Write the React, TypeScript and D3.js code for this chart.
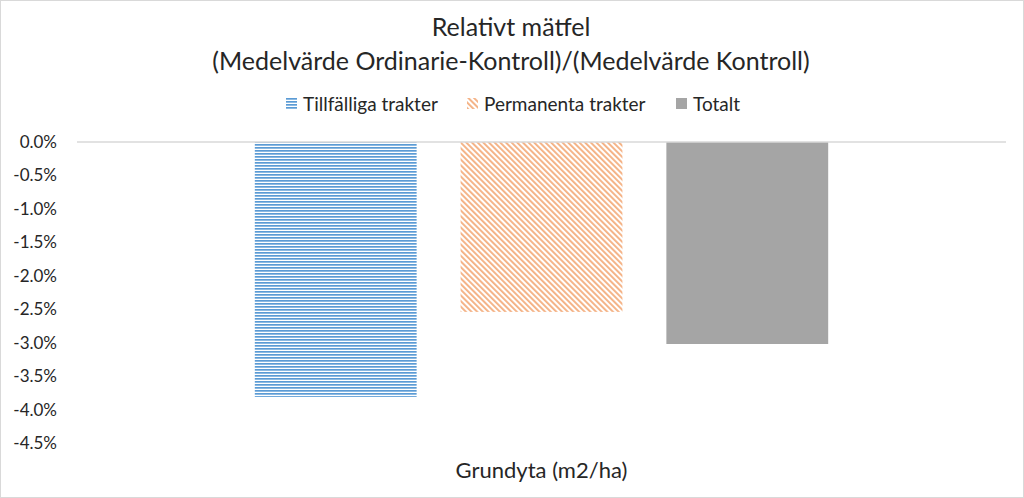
import { useEffect, useRef } from 'react'
import * as d3 from 'd3'

const titleLines = ['Relativt mätfel', '(Medelvärde Ordinarie-Kontroll)/(Medelvärde Kontroll)']
const categories = ['Grundyta (m2/ha)']
const seriesNames = ['Tillfälliga trakter', 'Permanenta trakter', 'Totalt']
const seriesValues = [-0.0381, -0.0254, -0.0302]
const yTicks = [0, -0.005, -0.01, -0.015, -0.02, -0.025, -0.03, -0.035, -0.04, -0.045]

const FILLS = ['url(#pat-hor)', 'url(#pat-diag)', '#a5a5a5']
const TXT = '#262626'
const FONT = 'Lato, "Open Sans", sans-serif'

export default function App() {
  const ref = useRef<SVGSVGElement>(null)

  useEffect(() => {
    const svg = d3.select(ref.current!)
    svg.selectAll('*').remove()
    const W = 1024, H = 498
    const m = { t: 142, r: 18, b: 55, l: 77 }
    svg.attr('width', W).attr('height', H)

    // Patterns
    const defs = svg.append('defs')
    const ph = defs.append('pattern').attr('id', 'pat-hor').attr('patternUnits', 'userSpaceOnUse')
      .attr('width', 6).attr('height', 3)
    ph.append('rect').attr('width', 6).attr('height', 3).attr('fill', '#fff')
    ph.append('rect').attr('width', 6).attr('height', 1.7).attr('fill', '#5b9bd5')
    const pd = defs.append('pattern').attr('id', 'pat-diag').attr('patternUnits', 'userSpaceOnUse')
      .attr('width', 4).attr('height', 4).attr('patternTransform', 'rotate(-45)')
    pd.append('rect').attr('width', 4).attr('height', 4).attr('fill', '#fff')
    pd.append('rect').attr('width', 1.9).attr('height', 4).attr('fill', '#f4b183')

    // Border
    svg.append('rect').attr('x', 0.5).attr('y', 0.5).attr('width', W - 1).attr('height', H - 1)
      .attr('fill', '#fff').attr('stroke', '#d9d9d9')

    // Title
    titleLines.forEach((t, i) => {
      svg.append('text').attr('x', 511).attr('y', 36 + i * 34).attr('text-anchor', 'middle')
        .attr('font-family', FONT).attr('font-size', 25).attr('fill', TXT).text(t)
    })

    const y = d3.scaleLinear().domain([-0.045, 0]).range([H - m.b, m.t])
    const x0 = d3.scaleBand().domain(categories).range([m.l, W - m.r]).padding(0.2367)
    const x1 = d3.scaleBand().domain(seriesNames).range([0, x0.bandwidth()]).paddingInner(0.2136).paddingOuter(0)

    // Y axis labels
    const fmt = d3.format('.1%')
    svg.append('g').attr('transform', `translate(${m.l - 20},0)`)
      .call(d3.axisLeft(y).tickValues(yTicks).tickSize(0).tickPadding(0).tickFormat(d => fmt(d as number).replace('−', '-')))
      .call(g => g.select('.domain').remove())
      .selectAll('text').attr('font-family', FONT).attr('font-size', 17).attr('fill', TXT)

    // Bars
    categories.forEach(c => {
      seriesNames.forEach((s, i) => {
        const v = seriesValues[i]
        svg.append('rect').attr('x', (x0(c) ?? 0) + (x1(s) ?? 0)).attr('width', x1.bandwidth())
          .attr('y', y(0)).attr('height', y(v) - y(0)).attr('fill', FILLS[i])
      })
      svg.append('text').attr('x', (x0(c) ?? 0) + x0.bandwidth() / 2).attr('y', 478)
        .attr('text-anchor', 'middle').attr('font-family', FONT).attr('font-size', 22).attr('fill', TXT).text(c)
    })

    // Zero axis line
    svg.append('line').attr('x1', m.l).attr('x2', W - m.r).attr('y1', y(0)).attr('y2', y(0))
      .attr('stroke', '#d9d9d9').attr('stroke-width', 1.3)

    // Legend
    const legX = [286, 467, 676]
    seriesNames.forEach((s, i) => {
      const lg = svg.append('g').attr('transform', `translate(${legX[i]},98)`)
      lg.append('rect').attr('width', 11).attr('height', 11).attr('fill', FILLS[i])
      lg.append('text').attr('x', 17).attr('y', 12.5).attr('font-family', FONT).attr('font-size', 19)
        .attr('fill', TXT).text(s)
    })
  }, [])

  return (
    <>
      <style>{'body{margin:0}'}</style>
      <svg ref={ref} style={{ display: 'block' }} />
    </>
  )
}
